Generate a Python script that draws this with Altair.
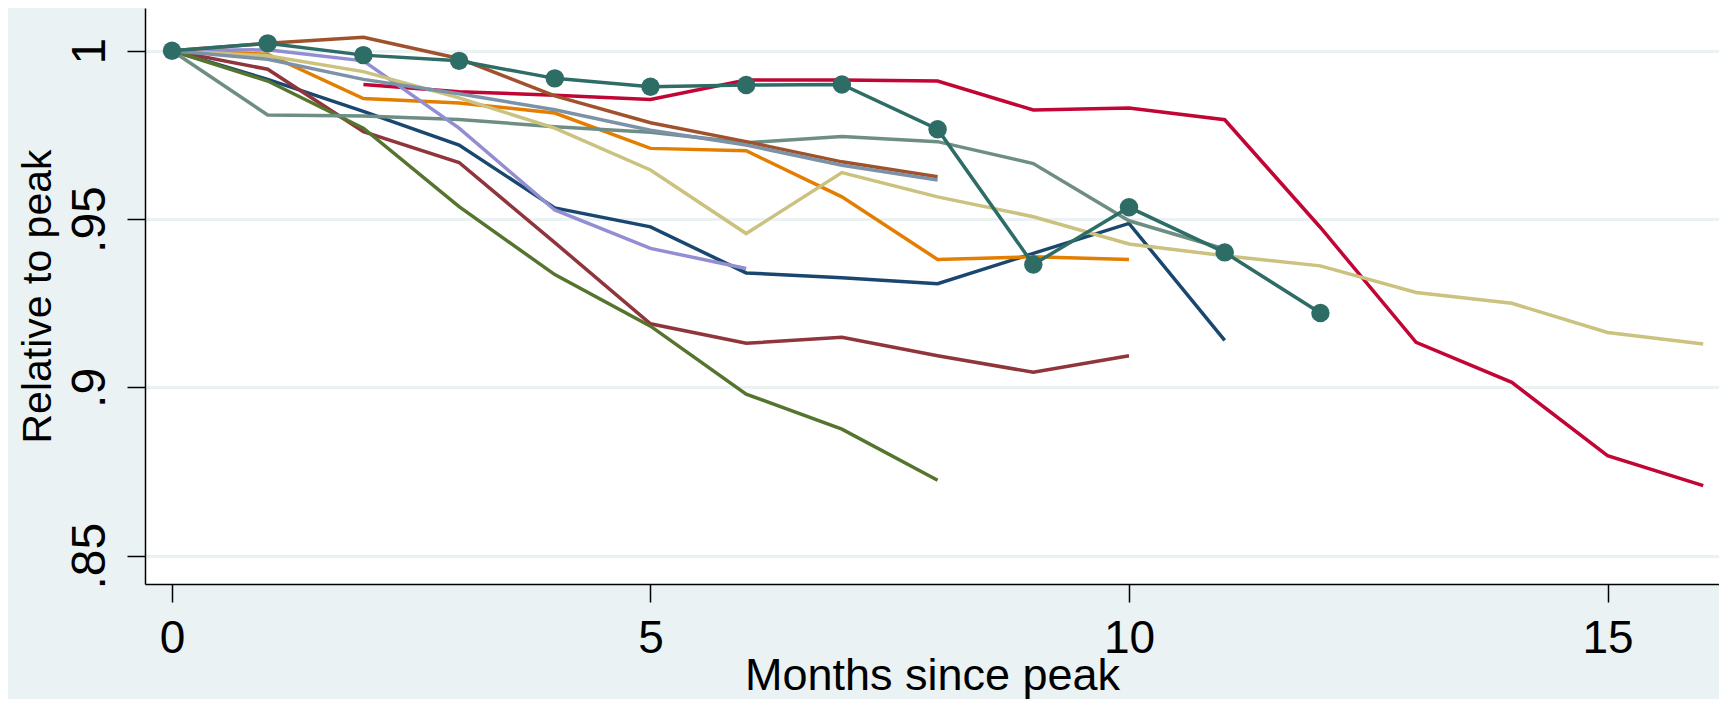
import altair as alt
import pandas as pd

# ---- data (months since peak, value relative to peak) ----
navy = [1.0, 0.9915, 0.982, 0.972, 0.9533, 0.9477, 0.934, 0.9326, 0.9308, 0.9398, 0.9487, 0.914]
maroon = [1.0, 0.9945, 0.976, 0.9668, 0.943, 0.9189, 0.9131, 0.9149, 0.9094, 0.9045, 0.9094]
forest_green = [1.0, 0.991, 0.977, 0.9537, 0.9335, 0.9182, 0.898, 0.8876, 0.8724]
dkorange = [1.0, 0.999, 0.9858, 0.9845, 0.9815, 0.971, 0.9703, 0.9566, 0.938, 0.9388, 0.938]
teal = [1.0, 0.9809, 0.9806, 0.9796, 0.9774, 0.9758, 0.9727, 0.9745, 0.973, 0.9665, 0.9495, 0.9411]
cranberry = [0.990, 0.9878, 0.9868, 0.9855, 0.9913, 0.9913, 0.991, 0.9824, 0.983, 0.9795,
             0.9475, 0.9134, 0.9015, 0.8797, 0.8708]
lavender = [1.0, 1.0003, 0.997, 0.977, 0.9527, 0.9413, 0.9353]
khaki = [1.0, 0.9985, 0.9938, 0.986, 0.977, 0.9646, 0.9457, 0.9638, 0.9566, 0.9507, 0.9426,
         0.9391, 0.9361, 0.9282, 0.925, 0.9163, 0.9129]
sienna = [1.0, 1.0022, 1.004, 0.9977, 0.9866, 0.9786, 0.973, 0.967, 0.9626]
emidblue = [1.0, 0.9975, 0.9915, 0.9872, 0.9825, 0.9764, 0.972, 0.966, 0.9616]
emerald = [1.0, 1.0022, 0.9987, 0.997, 0.9918, 0.9893, 0.9898, 0.990, 0.9767, 0.9365,
           0.9535, 0.9401, 0.9221]

# first month of each series
starts = {"navy": 0, "maroon": 0, "forest_green": 0, "dkorange": 0, "teal": 0,
          "cranberry": 2, "lavender": 0, "khaki": 0, "sienna": 0, "emidblue": 0, "emerald": 0}

series_order = ["navy", "maroon", "forest_green", "dkorange", "teal", "cranberry",
                "lavender", "khaki", "sienna", "emidblue", "emerald"]
values = {"navy": navy, "maroon": maroon, "forest_green": forest_green, "dkorange": dkorange,
          "teal": teal, "cranberry": cranberry, "lavender": lavender, "khaki": khaki,
          "sienna": sienna, "emidblue": emidblue, "emerald": emerald}
colors = {"navy": "#1a476f", "maroon": "#90353b", "forest_green": "#55752f",
          "dkorange": "#e37e00", "teal": "#6e8e84", "cranberry": "#c10534",
          "lavender": "#938dd2", "khaki": "#cac27e", "sienna": "#a0522d",
          "emidblue": "#7b92a8", "emerald": "#2d6d66"}

x_ticks = [0, 5, 10, 15]
y_ticks = [0.85, 0.9, 0.95, 1.0]

FONT = "Liberation Sans"
BG = "#eaf2f3"

xscale = alt.Scale(domain=[-0.282, 16.165], nice=False, zero=False)
yscale = alt.Scale(domain=[0.8416, 1.0127], nice=False, zero=False)

xaxis = alt.Axis(values=x_ticks, title="Months since peak", grid=False,
                 labelFont=FONT, labelFontSize=46, labelColor="black", labelPadding=14,
                 labelFlush=False, labelOverlap=False,
                 tickSize=18, tickColor="black", tickWidth=1.5,
                 domainColor="black", domainWidth=1.5,
                 titleFont=FONT, titleFontSize=45, titleFontWeight="normal", titleColor="black",
                 titleBaseline="alphabetic", titleY=105)

yaxis = alt.Axis(values=y_ticks, title="Relative to peak",
                 labelExpr="datum.value >= 1 ? '1' : substring(format(datum.value, '.2~f'), 1)",
                 grid=True, gridColor=BG, gridWidth=3,
                 labelFont=FONT, labelFontSize=48, labelColor="black",
                 labelAngle=270, labelAlign="center", labelBaseline="alphabetic",
                 labelPadding=23, labelOverlap=False, labelFlush=False,
                 tickSize=18, tickColor="black", tickWidth=1.5,
                 domainColor="black", domainWidth=1.5,
                 titleFont=FONT, titleFontSize=41, titleFontWeight="normal", titleColor="black",
                 titleAngle=270, titleAlign="center", titleBaseline="alphabetic",
                 titleX=-95, titleY=288)

layers = []
for name in series_order:
    vals = values[name]
    s = starts[name]
    df = pd.DataFrame({"month": list(range(s, s + len(vals))), "value": vals})
    base = alt.Chart(df).encode(
        x=alt.X("month:Q", scale=xscale, axis=xaxis),
        y=alt.Y("value:Q", scale=yscale, axis=yaxis),
    )
    layers.append(base.mark_line(color=colors[name], strokeWidth=3.5))
    if name == "emerald":
        layers.append(base.mark_point(color=colors[name], filled=True, opacity=1,
                                      size=340, shape="circle"))

chart = alt.layer(*layers).properties(
    width=1574, height=576,
    autosize=alt.AutoSizeParams(type="none"),
    padding={"left": 137, "top": 0, "right": 0, "bottom": 115},
    background=BG,
).configure_view(stroke=None, fill="white")

chart.save("out.html", embed_options={"renderer": "svg", "actions": False})
